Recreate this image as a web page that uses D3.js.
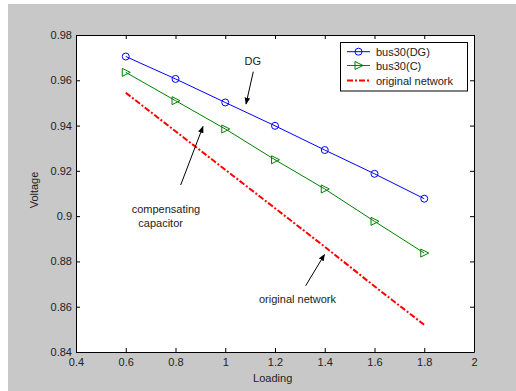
<!DOCTYPE html>
<html>
<head>
<meta charset="utf-8">
<script src="https://cdn.jsdelivr.net/npm/d3@7"></script>
<style>
  body { margin: 0; background: #fff; }
  text { font-family: "Liberation Sans", Arial, sans-serif; fill: #222; }
</style>
</head>
<body>
<div id="chart"></div>
<script>
// data
var loading = [0.6, 0.8, 1.0, 1.2, 1.4, 1.6, 1.8];
var busDG = [0.9705, 0.9606, 0.9502, 0.9399, 0.9292, 0.9187, 0.9077];
var busC = [0.9635, 0.9510, 0.9385, 0.9249, 0.9120, 0.8977, 0.8837];
var original = [0.9545, 0.9375, 0.9205, 0.9035, 0.8865, 0.869, 0.852];
var xTicks = [0.4, 0.6, 0.8, 1, 1.2, 1.4, 1.6, 1.8, 2];
var yTicks = [0.84, 0.86, 0.88, 0.9, 0.92, 0.94, 0.96, 0.98];
var legendNames = ["bus30(DG)", "bus30(C)", "original network"];

var W = 516, H = 391;
var pLeft = 76, pTop = 35, pRight = 474, pBottom = 352;

var svg = d3.select("#chart").append("svg")
  .attr("width", W).attr("height", H);

svg.append("defs").append("marker")
  .attr("id", "head")
  .attr("viewBox", "0 0 10 10")
  .attr("refX", 9).attr("refY", 5)
  .attr("markerWidth", 7).attr("markerHeight", 7)
  .attr("markerUnits", "userSpaceOnUse")
  .attr("orient", "auto")
  .append("path").attr("d", "M0,1L10,5L0,9Z").attr("fill", "#000");

// grey figure
svg.append("rect").attr("x", 8).attr("y", 4).attr("width", W - 8).attr("height", H - 4)
  .attr("fill", "#c8c8c8");
svg.append("rect").attr("x", pLeft).attr("y", pTop)
  .attr("width", pRight - pLeft).attr("height", pBottom - pTop)
  .attr("fill", "#fff");

var x = d3.scaleLinear().domain([0.4, 2]).range([pLeft, pRight]);
var y = d3.scaleLinear().domain([0.84, 0.98]).range([pBottom, pTop]);

var fmt = function(d){ return String(+d.toFixed(2)); };

svg.append("g").attr("transform", "translate(0," + pBottom + ")")
  .call(d3.axisBottom(x).tickValues(xTicks).tickFormat(fmt).tickSizeInner(-4).tickSizeOuter(0).tickPadding(6))
  .call(g => g.selectAll("text").attr("font-size", 11).attr("fill", "#222"));
svg.append("g").attr("transform", "translate(0," + pTop + ")")
  .call(d3.axisTop(x).tickValues(xTicks).tickFormat("").tickSizeInner(-4).tickSizeOuter(0));
svg.append("g").attr("transform", "translate(" + pLeft + ",0)")
  .call(d3.axisLeft(y).tickValues(yTicks).tickFormat(fmt).tickSizeInner(-4).tickSizeOuter(0).tickPadding(4))
  .call(g => g.selectAll("text").attr("font-size", 11).attr("fill", "#222"));
svg.append("g").attr("transform", "translate(" + pRight + ",0)")
  .call(d3.axisRight(y).tickValues(yTicks).tickFormat("").tickSizeInner(-4).tickSizeOuter(0));
svg.selectAll("g").attr("font-family", null);
svg.selectAll(".domain").attr("stroke", "#000");
svg.selectAll(".tick line").attr("stroke", "#000");

svg.append("text").attr("x", 272.7).attr("y", 382).attr("text-anchor", "middle")
  .attr("font-size", 11).text("Loading");
svg.append("text").attr("transform", "translate(38,190) rotate(-90)").attr("text-anchor", "middle")
  .attr("font-size", 11).text("Voltage");

var line = d3.line().x((d, i) => x(loading[i])).y(d => y(d));

svg.append("path").datum(original).attr("d", line)
  .attr("fill", "none").attr("stroke", "#ff0000").attr("stroke-width", 2)
  .attr("stroke-dasharray", "6,2,2,2");
svg.append("path").datum(busC).attr("d", line)
  .attr("fill", "none").attr("stroke", "#008000").attr("stroke-width", 1);
svg.append("path").datum(busDG).attr("d", line)
  .attr("fill", "none").attr("stroke", "#0000ff").attr("stroke-width", 1);

svg.append("g").selectAll("circle").data(busDG).enter().append("circle")
  .attr("cx", (d, i) => x(loading[i])).attr("cy", d => y(d)).attr("r", 3.5)
  .attr("fill", "none").attr("stroke", "#0000ff");

var tri = "M-3.5,-4L4.5,0L-3.5,4Z";
svg.append("g").selectAll("path").data(busC).enter().append("path")
  .attr("transform", (d, i) => "translate(" + x(loading[i]) + "," + y(d) + ")")
  .attr("d", tri).attr("fill", "none").attr("stroke", "#008000");

// legend
var lg = svg.append("g");
lg.append("rect").attr("x", 340.5).attr("y", 42.5).attr("width", 127).attr("height", 48.5)
  .attr("fill", "#fff").attr("stroke", "#000");
var rows = [51.7, 65.5, 80.5];
var styles = [
  { c: "#0000ff", dash: null, w: 1 },
  { c: "#008000", dash: null, w: 1 },
  { c: "#ff0000", dash: "6,2,2,2", w: 2 }
];
legendNames.forEach(function(name, i){
  lg.append("line").attr("x1", 347).attr("x2", 370).attr("y1", rows[i]).attr("y2", rows[i])
    .attr("stroke", styles[i].c).attr("stroke-width", styles[i].w)
    .attr("stroke-dasharray", styles[i].dash);
  lg.append("text").attr("x", 376).attr("y", rows[i] + 4).attr("font-size", 11).text(name);
});
lg.append("circle").attr("cx", 358.5).attr("cy", rows[0]).attr("r", 3.5)
  .attr("fill", "none").attr("stroke", "#0000ff");
lg.append("path").attr("transform", "translate(358.5," + rows[1] + ")").attr("d", tri)
  .attr("fill", "none").attr("stroke", "#008000");

// annotations
function arrow(x1, y1, x2, y2){
  svg.append("line").attr("x1", x1).attr("y1", y1).attr("x2", x2).attr("y2", y2)
    .attr("stroke", "#000").attr("stroke-width", 1).attr("marker-end", "url(#head)");
}
svg.append("text").attr("x", 252.7).attr("y", 65).attr("text-anchor", "middle").attr("font-size", 11).text("DG");
arrow(253.3, 71.7, 246, 104);
svg.append("text").attr("x", 131.7).attr("y", 213).attr("font-size", 11).text("compensating");
svg.append("text").attr("x", 138.3).attr("y", 227).attr("font-size", 11).text("capacitor");
arrow(180.7, 185, 203, 126.5);
svg.append("text").attr("x", 259).attr("y", 303).attr("font-size", 11).text("original network");
arrow(305.7, 285.7, 324.5, 254.5);
</script>
</body>
</html>
